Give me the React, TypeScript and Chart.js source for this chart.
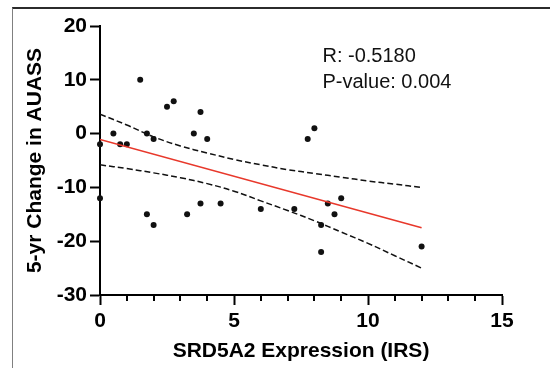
import { useEffect, useRef } from "react";
import { Chart, registerables } from "chart.js";

Chart.register(...registerables);

// ---- data ----
const pointX = [0, 0.5, 0.75, 1, 1.5, 1.75, 2, 2.5, 2.75, 3.5, 3.75, 4, 0, 1.75, 2, 3.25, 3.75, 4.5, 6, 7.75, 8, 9, 7.25, 8.5, 8.75, 8.25, 8.25, 12];
const pointY = [-2, 0, -2, -2, 10, 0, -1, 5, 6, 0, 4, -1, -12, -15, -17, -15, -13, -13, -14, -1, 1, -12, -14, -13, -15, -17, -22, -21];

const fitX = [0, 12];
const fitY = [-1.1, -17.5];

const bandX = [0, 1, 2, 3, 4, 5, 6, 7, 8, 9, 10, 11, 12];
const upperY = [3.6, 1.6, -0.6, -2.3, -3.6, -4.8, -5.8, -6.7, -7.4, -8.1, -8.8, -9.4, -10.0];
const lowerY = [-5.8, -6.5, -7.3, -8.2, -9.3, -10.7, -12.5, -14.3, -16.2, -18.3, -20.4, -22.7, -25.0];

const minorTicksX = [1, 2, 3, 4, 6, 7, 8, 9, 11, 12, 13, 14];
const statLines = ["R: -0.5180", "P-value: 0.004"];
const statAnchorX = 8.3;
const statAnchorY = [13.4, 8.5];

const xTitle = "SRD5A2 Expression (IRS)";
const yTitle = "5-yr Change in AUASS";

const FONT = "'Liberation Sans', Arial, Helvetica, sans-serif";

const extrasPlugin = {
  id: "extras",
  afterDraw(chart: any) {
    const { ctx, scales } = chart;
    const x = scales.x;
    const y = scales.y;
    ctx.save();
    // minor ticks
    ctx.strokeStyle = "#000";
    ctx.lineWidth = 2;
    const base = chart.chartArea.bottom;
    minorTicksX.forEach((v) => {
      const px = Math.round(x.getPixelForValue(v));
      ctx.beginPath();
      ctx.moveTo(px, base);
      ctx.lineTo(px, base + 6);
      ctx.stroke();
    });
    // stats text
    ctx.fillStyle = "#111";
    ctx.font = `20px ${FONT}`;
    ctx.textAlign = "left";
    ctx.textBaseline = "alphabetic";
    statLines.forEach((t, i) => {
      ctx.fillText(t, x.getPixelForValue(statAnchorX), y.getPixelForValue(statAnchorY[i]));
    });
    ctx.restore();
  },
};

export default function App() {
  const ref = useRef<HTMLCanvasElement | null>(null);

  useEffect(() => {
    if (!ref.current) return;
    const chart = new Chart(ref.current, {
      type: "scatter",
      data: {
        datasets: [
          {
            label: "upper",
            type: "line",
            data: bandX.map((v, i) => ({ x: v, y: upperY[i] })),
            borderColor: "#111",
            borderWidth: 1.5,
            borderDash: [6, 3],
            pointRadius: 0,
            tension: 0.4,
            fill: false,
          },
          {
            label: "lower",
            type: "line",
            data: bandX.map((v, i) => ({ x: v, y: lowerY[i] })),
            borderColor: "#111",
            borderWidth: 1.5,
            borderDash: [6, 3],
            pointRadius: 0,
            tension: 0.4,
            fill: false,
          },
          {
            label: "fit",
            type: "line",
            data: fitX.map((v, i) => ({ x: v, y: fitY[i] })),
            borderColor: "#e8382b",
            borderWidth: 1.6,
            pointRadius: 0,
            fill: false,
          },
          {
            label: "points",
            data: pointX.map((v, i) => ({ x: v, y: pointY[i] })),
            backgroundColor: "#111",
            borderColor: "#111",
            pointRadius: 3,
            borderWidth: 0,
            clip: false,
          } as any,
        ],
      },
      options: {
        animation: false,
        responsive: false,
        devicePixelRatio: 1,
        layout: { padding: { left: 0, top: 26, right: 48, bottom: 0 } },
        plugins: {
          legend: { display: false },
          tooltip: { enabled: false },
        },
        scales: {
          x: {
            type: "linear",
            min: 0,
            max: 15,
            position: "bottom",
            ticks: {
              stepSize: 5,
              color: "#000",
              padding: 4,
              font: { family: FONT, size: 21, weight: "bold" },
            },
            grid: {
              drawOnChartArea: false,
              drawTicks: true,
              tickLength: 10,
              tickWidth: 2,
              tickColor: "#000",
            },
            border: { color: "#000", width: 2 },
            title: {
              display: true,
              text: xTitle,
              color: "#000",
              font: { family: FONT, size: 21, weight: "bold" },
              padding: { top: 0, bottom: 4 },
            },
            afterFit: (s: any) => {
              s.height = 73;
            },
          },
          y: {
            type: "linear",
            min: -30,
            max: 20,
            ticks: {
              stepSize: 10,
              color: "#000",
              padding: 3,
              font: { family: FONT, size: 21, weight: "bold" },
            },
            grid: {
              drawOnChartArea: false,
              drawTicks: true,
              tickLength: 10,
              tickWidth: 2,
              tickColor: "#000",
            },
            border: { color: "#000", width: 2 },
            title: {
              display: true,
              text: yTitle,
              color: "#000",
              font: { family: FONT, size: 21, weight: "bold" },
              padding: { top: 23, bottom: 0 },
            },
            afterFit: (s: any) => {
              s.width = 100;
            },
          },
        },
      },
      plugins: [extrasPlugin],
    });
    return () => chart.destroy();
  }, []);

  return (
    <div style={{ position: "absolute", left: 0, top: 0, width: 550, height: 368, background: "#fff", overflow: "hidden" }}>
      <div
        style={{
          position: "absolute",
          left: 12,
          top: 7,
          width: 600,
          height: 400,
          borderTop: "2px solid #2b2b2b",
          borderLeft: "1.5px solid #808080",
          boxSizing: "border-box",
        }}
      />
      <canvas ref={ref} width={550} height={368} style={{ position: "absolute", left: 0, top: 0, width: 550, height: 368 }} />
    </div>
  );
}
